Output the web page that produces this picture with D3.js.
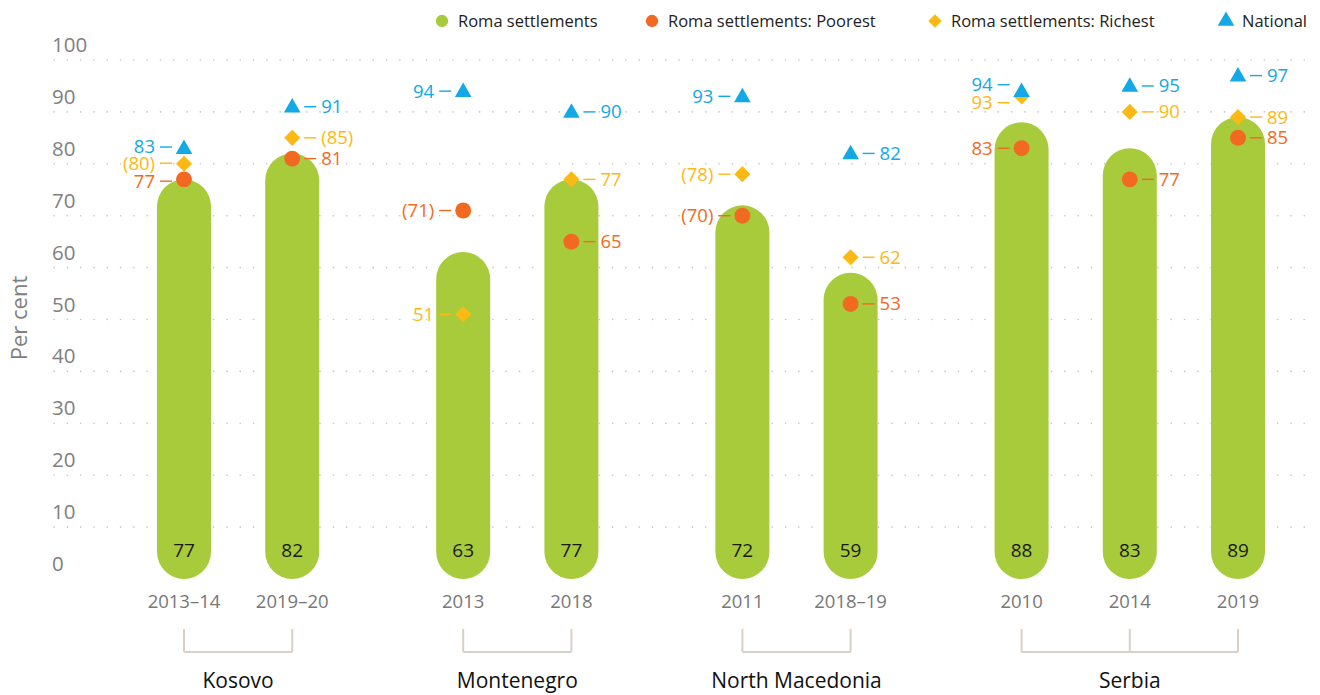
<!DOCTYPE html>
<html>
<head>
<meta charset="utf-8">
<script src="https://cdn.jsdelivr.net/npm/d3@7"></script>
<style>
  body { margin: 0; background: #fff; }
  svg text { font-family: "Open Sans", "Noto Sans", sans-serif; }
</style>
</head>
<body>
<div id="chart"></div>
<script>
// data
const countries = ['Kosovo', 'Montenegro', 'North Macedonia', 'Serbia'];
const years = [
    ['2013–14', '2019–20'],
    ['2013', '2018'],
    ['2011', '2018–19'],
    ['2010', '2014', '2019']
];
const roma = [77, 82, 63, 77, 72, 59, 88, 83, 89];
const poorest = [77, 81, 71, 65, 70, 53, 83, 77, 85];
const richest = [80, 85, 51, 77, 78, 62, 93, 90, 89];
const national = [83, 91, 94, 90, 93, 82, 94, 95, 97];
// values in brackets in the source (small samples)
const poorestBracket = [false, false, true, false, true, false, false, false, false];
const richestBracket = [true, true, false, false, true, false, false, false, false];
// which side the value labels sit on
const labelSide = ['left', 'right', 'left', 'right', 'left', 'right', 'left', 'right', 'right'];
const yTicks = [0, 10, 20, 30, 40, 50, 60, 70, 80, 90, 100];

const colors = {
    roma: '#a8cb3c',
    poorest: '#f26a21',
    richest: '#fdb913',
    national: '#13a8e6'
};

const width = 1320;
const height = 695;
const margin = {top: 60, bottom: 116, left: 52, right: 10};
const groupGap = 0.58;

const svg = d3.select('#chart')
    .append('svg')
    .attr('width', width)
    .attr('height', height);

// flatten to one row per survey
const rows = [];
years.forEach((ys, g) => {
    ys.forEach(yr => {
        const i = rows.length;
        rows.push({
            g, year: yr, pos: i + g * groupGap,
            roma: roma[i], poorest: poorest[i], richest: richest[i], national: national[i],
            pb: poorestBracket[i], rb: richestBracket[i], side: labelSide[i]
        });
    });
});

const x = d3.scaleLinear()
    .domain([0, d3.max(rows, d => d.pos)])
    .range([184, 1238]);

const y = d3.scaleLinear()
    .domain([0, 100])
    .range([height - margin.bottom, margin.top]);

// gridlines + tick labels
const grid = svg.append('g');
grid.selectAll('line')
    .data(yTicks.filter(t => t > 0))
    .join('line')
        .attr('x1', margin.left + 2)
        .attr('x2', width - margin.right)
        .attr('y1', d => y(d))
        .attr('y2', d => y(d))
        .attr('stroke', '#c4c4c4')
        .attr('stroke-width', 1.6)
        .attr('stroke-linecap', 'round')
        .attr('stroke-dasharray', '0.1,13.2');

grid.selectAll('text')
    .data(yTicks)
    .join('text')
        .attr('x', margin.left)
        .attr('y', d => y(d) - 8)
        .attr('fill', '#808080')
        .attr('font-size', '20.5px')
        .text(d => d);

svg.append('text')
    .attr('transform', `translate(27, 318) rotate(-90)`)
    .attr('text-anchor', 'middle')
    .attr('fill', '#808080')
    .attr('font-size', '22px')
    .text('Per cent');

// bars (fully rounded pills)
const barW = 54;
svg.append('g')
    .selectAll('rect')
    .data(rows)
    .join('rect')
        .attr('x', d => x(d.pos) - barW / 2)
        .attr('y', d => y(d.roma))
        .attr('width', barW)
        .attr('height', d => y(0) - y(d.roma))
        .attr('rx', barW / 2)
        .attr('fill', colors.roma);

svg.append('g')
    .selectAll('text')
    .data(rows)
    .join('text')
        .attr('x', d => x(d.pos))
        .attr('y', y(0) - 22)
        .attr('text-anchor', 'middle')
        .attr('fill', '#1a1a1a')
        .attr('font-size', '19px')
        .text(d => d.roma);

// markers
const sym = {
    richest: d3.symbol().type(d3.symbolSquare).size(130),
    poorest: d3.symbol().type(d3.symbolCircle).size(200),
    national: d3.symbol().type(d3.symbolTriangle).size(120)
};
['richest', 'poorest', 'national'].forEach(k => {
    svg.append('g')
        .selectAll('path')
        .data(rows)
        .join('path')
            .attr('d', sym[k])
            .attr('transform', d => `translate(${x(d.pos)},${y(d[k])})` + (k === 'richest' ? ' rotate(45)' : '') + (k === 'national' ? ' translate(0,1)' : ''))
            .attr('fill', colors[k]);
});

// value labels with a short leader dash; spread apart when they collide
const labels = [];
rows.forEach(d => {
    const items = [
        {k: 'national', v: d.national, t: String(d.national)},
        {k: 'richest', v: d.richest, t: d.rb ? `(${d.richest})` : String(d.richest)},
        {k: 'poorest', v: d.poorest, t: d.pb ? `(${d.poorest})` : String(d.poorest)}
    ].map(o => ({...o, cx: x(d.pos), side: d.side, ly: y(o.v)}));
    items.sort((a, b) => a.ly - b.ly);
    for (let j = 1; j < items.length; j++) {
        const gap = items[j].ly - items[j - 1].ly;
        if (gap < 18) {
            const shift = (18 - gap) / 2;
            items[j - 1].ly -= shift;
            items[j].ly += shift;
        }
    }
    labels.push(...items);
});

const lab = svg.append('g')
    .selectAll('g')
    .data(labels)
    .join('g')
        .attr('transform', d => `translate(${d.cx},${d.ly})`);

lab.append('line')
    .attr('x1', d => d.side === 'left' ? -24 : 12)
    .attr('x2', d => d.side === 'left' ? -12 : 24)
    .attr('stroke', d => colors[d.k])
    .attr('stroke-width', 1.4);

lab.append('text')
    .attr('x', d => d.side === 'left' ? -29 : 29)
    .attr('dy', '0.35em')
    .attr('text-anchor', d => d.side === 'left' ? 'end' : 'start')
    .attr('fill', d => colors[d.k])
    .attr('font-size', '18.5px')
    .text(d => d.t);

// year labels
svg.append('g')
    .selectAll('text')
    .data(rows)
    .join('text')
        .attr('x', d => x(d.pos))
        .attr('y', 608)
        .attr('text-anchor', 'middle')
        .attr('fill', '#777')
        .attr('font-size', '18.5px')
        .text(d => d.year);

// country brackets
const groups = countries.map((c, g) => {
    const r = rows.filter(d => d.g === g);
    return {name: c, xs: r.map(d => x(d.pos))};
});
const br = svg.append('g')
    .selectAll('g')
    .data(groups)
    .join('g');

br.append('line')
    .attr('x1', d => d3.min(d.xs))
    .attr('x2', d => d3.max(d.xs))
    .attr('y1', 652)
    .attr('y2', 652)
    .attr('stroke', '#d9d0c8')
    .attr('stroke-width', 2);

br.selectAll('line.tick')
    .data(d => d.xs)
    .join('line')
        .attr('class', 'tick')
        .attr('x1', d => d)
        .attr('x2', d => d)
        .attr('y1', 629)
        .attr('y2', 652)
        .attr('stroke', '#d9d0c8')
        .attr('stroke-width', 2);

br.append('text')
    .attr('x', d => (d3.min(d.xs) + d3.max(d.xs)) / 2)
    .attr('y', 688)
    .attr('text-anchor', 'middle')
    .attr('fill', '#111')
    .attr('font-size', '21px')
    .text(d => d.name);

// legend
const legend = [
    {t: 'Roma settlements', k: 'roma', s: d3.symbolCircle, x: 442},
    {t: 'Roma settlements: Poorest', k: 'poorest', s: d3.symbolCircle, x: 652},
    {t: 'Roma settlements: Richest', k: 'richest', s: d3.symbolSquare, x: 935},
    {t: 'National', k: 'national', s: d3.symbolTriangle, x: 1226}
];
const lg = svg.append('g')
    .selectAll('g')
    .data(legend)
    .join('g')
        .attr('transform', d => `translate(${d.x},21)`);

lg.append('path')
    .attr('d', d => d3.symbol().type(d.s).size(d.s === d3.symbolSquare ? 90 : 120)())
    .attr('transform', d => d.s === d3.symbolSquare ? 'rotate(45)' : '')
    .attr('fill', d => colors[d.k]);

lg.append('text')
    .attr('x', 16)
    .attr('dy', '0.35em')
    .attr('fill', '#222')
    .attr('font-size', '16.5px')
    .text(d => d.t);
</script>
</body>
</html>
